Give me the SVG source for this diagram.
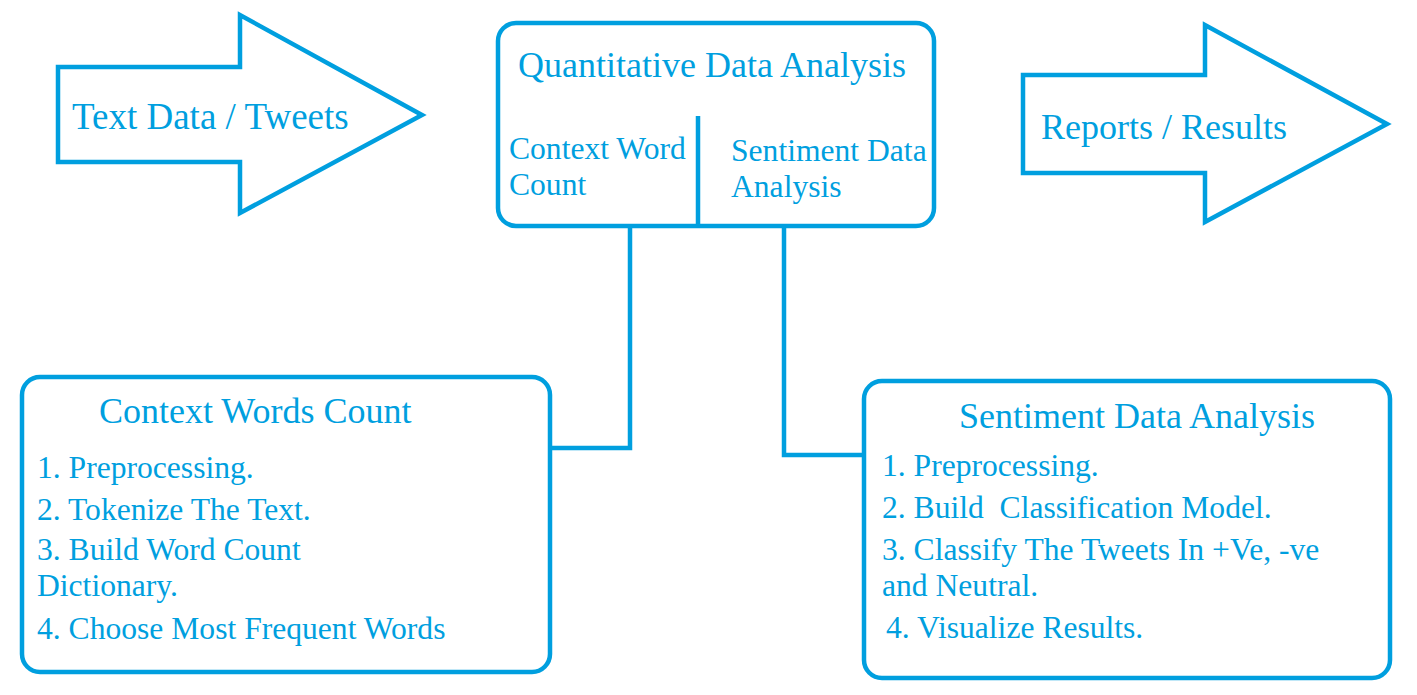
<svg xmlns="http://www.w3.org/2000/svg" width="1417" height="695" viewBox="0 0 1417 695">
<style>
.s{fill:none;stroke:#009FDF;stroke-width:4.5;stroke-linejoin:miter}
.b{fill:#fff;stroke:#009FDF;stroke-width:4.5}
.t{fill:#009FDF}
.h{font-size:36px}
.a{font-size:37px}
.i{font-size:31.6px}
</style>
<rect width="1417" height="695" fill="#fff"/>
<g id="connectors">
<polyline class="s" points="630,226 630,448 550,448"/>
<polyline class="s" points="784,226 784,455 864,455"/>
</g>
<g id="input-arrow" font-family="Liberation Serif">
<polygon class="b" points="58,67 240,67 240,15 422,115 240,213 240,162 58,162"/>
<text class="t a" x="72" y="129">Text Data / Tweets</text>
</g>
<g id="output-arrow" font-family="Liberation Serif">
<polygon class="b" points="1023,75 1205,75 1205,25 1387,124 1205,222 1205,173 1023,173"/>
<text class="t h" x="1041" y="139">Reports / Results</text>
</g>
<g id="quantitative" font-family="Liberation Serif">
<rect class="b" x="498" y="23" width="436" height="203" rx="18"/>
<line class="s" x1="698" y1="116" x2="698" y2="226"/>
<text class="t h" x="518" y="77">Quantitative Data Analysis</text>
<text class="t i" x="509" y="159">Context Word</text>
<text class="t i" x="509" y="195">Count</text>
<text class="t i" x="731" y="161">Sentiment Data</text>
<text class="t i" x="731" y="197">Analysis</text>
</g>
<g id="context-words" font-family="Liberation Serif">
<rect class="b" x="22" y="377" width="528" height="295" rx="18"/>
<text class="t h" x="99" y="423">Context Words Count</text>
<text class="t i" x="37" y="478">1. Preprocessing.</text>
<text class="t i" x="37" y="520">2. Tokenize The Text.</text>
<text class="t i" x="37" y="560">3. Build Word Count</text>
<text class="t i" x="37" y="596">Dictionary.</text>
<text class="t i" x="37" y="639">4. Choose Most Frequent Words</text>
</g>
<g id="sentiment" font-family="Liberation Serif">
<rect class="b" x="864" y="381" width="526" height="297" rx="18"/>
<text class="t h" x="959" y="428">Sentiment Data Analysis</text>
<text class="t i" x="882" y="476">1. Preprocessing.</text>
<text class="t i" x="882" y="518" xml:space="preserve">2. Build  Classification Model.</text>
<text class="t i" x="882" y="560">3. Classify The Tweets In +Ve, -ve</text>
<text class="t i" x="882" y="596">and Neutral.</text>
<text class="t i" x="886" y="638">4. Visualize Results.</text>
</g>
</svg>
